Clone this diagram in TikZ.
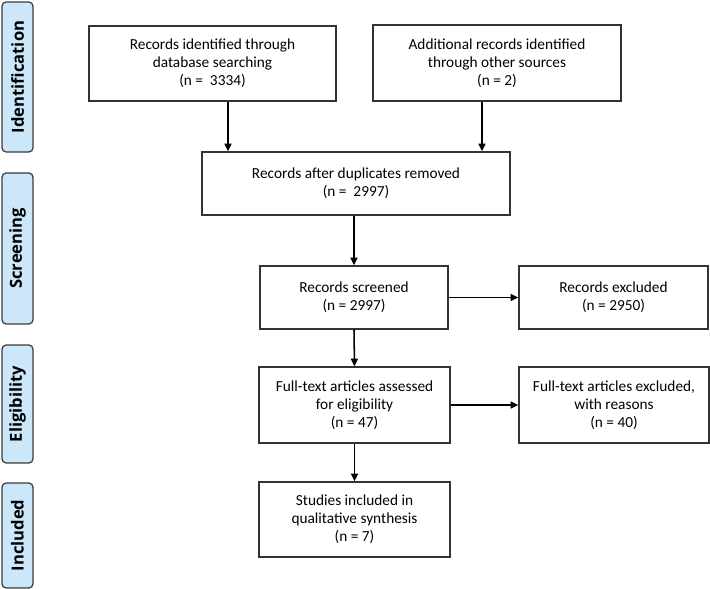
\documentclass[tikz,border=0pt]{standalone}
\usepackage{fontspec}
\setmainfont{Carlito}
\newfontfamily\stagefont{Open Sans}
\usetikzlibrary{positioning, arrows.meta, calc}
\definecolor{stagefill}{HTML}{CDE7FA}
\definecolor{stageline}{HTML}{3C3C3C}

\begin{document}
\begin{tikzpicture}[x=0.025cm, y=-0.025cm,
    box/.style={draw=black!80, line width=0.9pt, align=center, inner sep=0pt, font=\fontsize{10.9}{12.8}\selectfont},
    stage/.style={draw=stageline, fill=stagefill, rounded corners=3pt, line width=0.9pt, rotate=90, minimum height=0.775cm, inner sep=0pt, font=\stagefont\bfseries\fontsize{11.8}{13}\selectfont},
    arrow/.style={-{Triangle[length=5.5pt, width=5pt]}, line width=1.1pt},
]
\useasboundingbox (0,0) rectangle (710,589);

% Stages
\node[stage, minimum width=3.75cm] (sIdent) at (17.5,77) {Identification};
\node[stage, minimum width=3.775cm] (sScreen) at (17.5,248.5) {Screening};
\node[stage, minimum width=2.95cm] (sElig) at (17.5,404) {Eligibility};
\node[stage, minimum width=2.625cm] (sIncl) at (17.5,535.5) {Included};

% Boxes
\node[box, minimum width=6.175cm, minimum height=1.875cm] (dbsearch) at (212.5,63.5) {Records identified through\\database searching\\(n = \ 3334)};
\node[box, minimum width=6.2cm, minimum height=1.9cm] (othersrc) at (497,63) {Additional records identified\\through other sources\\(n = 2)};
\node[box, minimum width=7.7cm, minimum height=1.575cm] (dupremoved) at (356,183.5) {Records after duplicates removed\\(n = \ 2997)};
\node[box, minimum width=4.7cm, minimum height=1.575cm] (screened) at (354,297.5) {Records screened\\(n = 2997)};
\node[box, minimum width=4.725cm, minimum height=1.575cm] (excluded) at (613.5,297.5) {Records excluded\\(n = 2950)};
\node[box, minimum width=4.775cm, minimum height=1.9cm] (fulltext) at (354.5,405) {Full-text articles assessed\\for eligibility\\(n = 47)};
\node[box, minimum width=4.75cm, minimum height=1.9cm] (ftexcluded) at (614,405) {Full-text articles excluded,\\with reasons\\(n = 40)};
\node[box, minimum width=4.775cm, minimum height=1.875cm] (included) at (354.5,519.5) {Studies included in\\qualitative synthesis\\(n = 7)};

% Connections
\coordinate (dbout) at ($(dbsearch.south)+(15.5,0)$);
\coordinate (otherout) at ($(othersrc.south)+(-15,0)$);
\draw[arrow] (dbout) -- (dbout |- dupremoved.north);
\draw[arrow] (otherout) -- (otherout |- dupremoved.north);
\draw[arrow] (dupremoved.south -| screened.north) -- (screened.north);
\draw[arrow] (screened.east) -- (excluded.west);
\draw[arrow] (screened.south) -- (fulltext.north);
\draw[arrow] (fulltext.east) -- (ftexcluded.west);
\draw[arrow] (fulltext.south) -- (included.north);

\end{tikzpicture}
\end{document}
